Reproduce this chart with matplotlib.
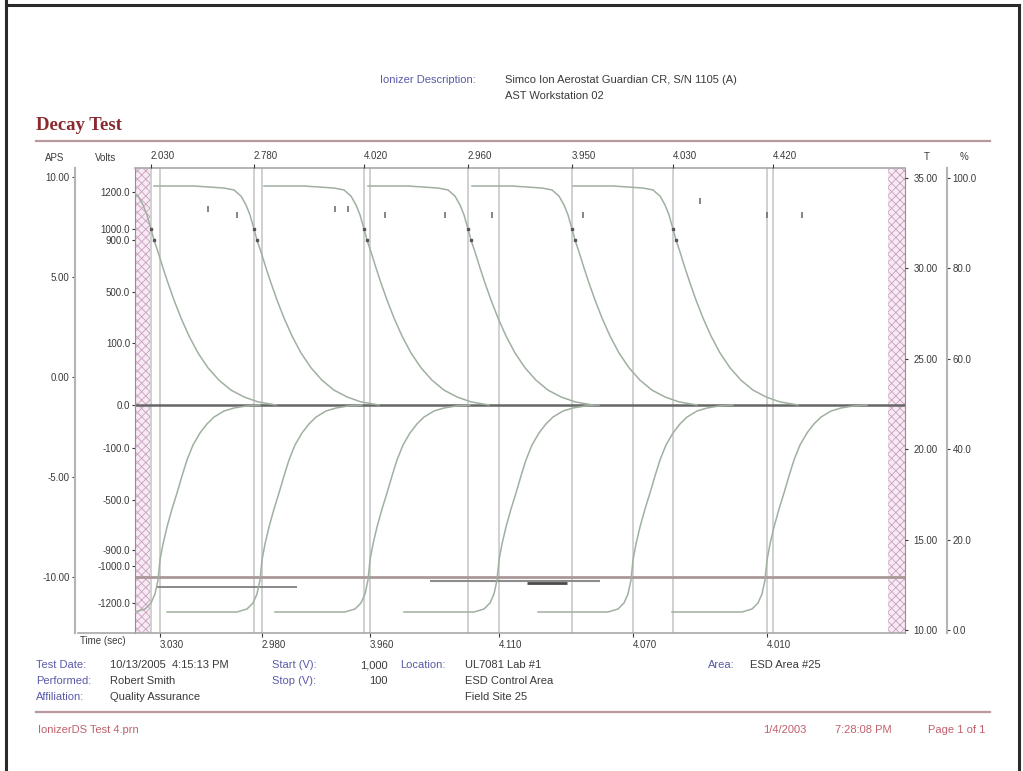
import numpy as np
import matplotlib.pyplot as plt
from matplotlib.lines import Line2D

W, H = 1023, 771

# positive decay profile: seconds from the 1000 V crossing, volts
pos_dt = [-10.0, -6.0, -3.0, -2.0, -1.3, -0.8, -0.4, 0.0, 0.3, 0.7, 1.2, 1.7,
          2.3, 3.0, 3.8, 4.7, 5.7, 6.8, 8.0, 9.3, 10.7, 12.5]
pos_v = [1250, 1250, 1233, 1217, 1178, 1130, 1076, 1000, 900, 808, 685, 569,
         437, 296, 155, 84, 60, 40, 24, 13, 5, 0]

# negative decay profile: seconds from the -1000 V crossing, volts
neg_dt = [-9.5, -2.5, -1.5, -0.9, -0.5, -0.2, 0.0, 0.3, 0.7, 1.2, 1.7, 2.2,
          2.7, 3.3, 4.0, 4.7, 5.4, 6.4, 7.4, 8.7, 10.0]
neg_v = [-1260, -1260, -1240, -1200, -1151, -1076, -962, -852, -716, -572,
         -446, -315, -192, -93, -65, -44, -28, -14, -7, -2, 0]

# start of each decay (s) and the times printed on the top / bottom axes
pos_t = [0.1, 10.4, 21.4, 31.8, 42.2, 52.3, 62.3]
pos_lbl = ["2.030", "2.780", "4.020", "2.960", "3.950", "4.030", "4.420"]
n_pos_curves = 6
neg_t = [1.0, 11.2, 22.0, 34.9, 48.3, 61.7]
neg_lbl = ["3.030", "2.980", "3.960", "4.110", "4.070", "4.010"]

# small event marks near the top of the plot
mark_t = [5.8, 8.7, 18.5, 19.8, 23.5, 29.5, 34.2, 43.3, 55.0, 61.7, 65.2]
mark_v = [1110, 1076, 1110, 1110, 1076, 1076, 1076, 1076, 1150, 1076, 1076]

# voltage axis (non linear, as printed)
volt_ticks = [1200, 1000, 900, 500, 100, 0, -100, -500, -900, -1000, -1200]
scale_v = [-1400, -1200, -1000, -900, -500, -100, 0, 100, 500, 900, 1000, 1200, 1400]
scale_pos = [-228, -198, -161, -145, -95, -43, 0, 62, 113, 165, 176, 213, 237]
ref_level = -1060
hold_segs = [(0.7, 14.7, -1114, '#808080', 1.3), (28.0, 45.0, -1080, '#8c8c8c', 1.5),
             (37.7, 41.7, -1090, '#4a4a4a', 2.0)]

# outer / right axes
aps_ticks = [10, 5, 0, -5, -10]
temp_ticks = [35, 30, 25, 20, 15, 10]
hum_ticks = [100, 80, 60, 40, 20, 0]


def fwd(v):
    return np.interp(v, scale_v, scale_pos)


def inv(p):
    return np.interp(p, scale_pos, scale_v)


plt.rcParams['font.family'] = ['Liberation Sans', 'DejaVu Sans']
plt.rcParams['hatch.linewidth'] = 0.6

txt_c = '#3a3a3a'
blue_c = '#5a5aa8'
red_c = '#c0606c'
curve_c = '#a0b0a0'
tick_fs = 7
info_fs = 8

fig = plt.figure(figsize=(W / 100, H / 100), dpi=100)


def fx(x):
    return x / W


def fy(y):
    return 1 - y / H


def fline(x0, y0, x1, y1, **kw):
    fig.add_artist(Line2D([fx(x0), fx(x1)], [fy(y0), fy(y1)],
                          transform=fig.transFigure, **kw))


def ftext(x, y, s, **kw):
    kw.setdefault('fontsize', info_fs)
    kw.setdefault('color', txt_c)
    kw.setdefault('va', 'center')
    fig.text(fx(x), fy(y), s, **kw)


# page frame and rules
fline(6, 0, 6, 771, color='#2a2a2a', lw=2.2)
fline(6, 5, 1019, 5, color='#2a2a2a', lw=2.2)
fline(1019, 5, 1019, 771, color='#2a2a2a', lw=2.2)
fline(36, 141, 990, 141, color='#b89a9c', lw=1.6)
fline(36, 712, 990, 712, color='#b89a9c', lw=1.6)
fline(78, 633, 135, 633, color='#a8a8a8', lw=1.2)

ftext(36, 125, "Decay Test", fontsize=13.5, fontweight='bold', color='#8b2a2e',
      family=['Liberation Serif', 'DejaVu Serif'])
ftext(380, 80, "Ionizer Description:", color=blue_c)
ftext(505, 80, "Simco Ion Aerostat Guardian CR, S/N 1105 (A)")
ftext(505, 96, "AST Workstation 02")

L, R, T, B = 135, 905, 168, 633
ax = fig.add_axes([fx(L), fy(B), (R - L) / W, (B - T) / H])
ax.set_xlim(-1.5, 75.5)
ax.set_yscale('function', functions=(fwd, inv))
ax.set_ylim(-1400, 1400)

for a, b in [(-1.5, 0.0), (73.8, 75.5)]:
    ax.axvspan(a, b, facecolor='#f8e9f3', edgecolor='#c7a2c0', hatch='xxxx',
               lw=0, zorder=0)

for t in pos_t + neg_t:
    ax.axvline(t, color='#cdcdcd', lw=1.3, zorder=1)

ax.axhline(0, color='#666666', lw=1.8, zorder=2)
ax.axhline(ref_level, color='#aa9898', lw=2.0, zorder=2)
for x0, x1, v, c, w in hold_segs:
    ax.hlines(v, x0, x1, color=c, lw=w, zorder=2)

for t0 in pos_t[:n_pos_curves]:
    ax.plot(np.add(pos_dt, t0), pos_v, color=curve_c, lw=1.1, zorder=3)
    ax.plot([t0, t0 + 0.3], [1000, 900], 's', ms=2.0, color='#555555', zorder=4)
for t0 in neg_t:
    ax.plot(np.add(neg_dt, t0), neg_v, color=curve_c, lw=1.1, zorder=3)

ax.plot(mark_t, mark_v, '|', ms=4, mew=1.2, color='#707070', zorder=4)

ax.set_yticks(volt_ticks, [f"{v:.1f}" for v in volt_ticks])
ax.tick_params(axis='y', length=2, pad=1.5, labelsize=tick_fs, colors=txt_c)
ax.set_xticks(neg_t, neg_lbl)
for lab in ax.get_xticklabels():
    lab.set_ha('left')
ax.tick_params(axis='x', length=3, pad=2, labelsize=tick_fs, colors=txt_c)
for s in ['top', 'bottom']:
    ax.spines[s].set_color('#a8a8a8')
    ax.spines[s].set_linewidth(1.2)
for s in ['left', 'right']:
    ax.spines[s].set_color('#9a8a9a')

ax_top = ax.twiny()
ax_top.set_xlim(ax.get_xlim())
ax_top.set_xticks(pos_t, pos_lbl)
for lab in ax_top.get_xticklabels():
    lab.set_ha('left')
ax_top.tick_params(axis='x', length=3, pad=2, labelsize=tick_fs, colors=txt_c)
for s in ax_top.spines.values():
    s.set_visible(False)

ax_o = ax.twinx()
ax_o.set_ylim(-12.8, 10.45)
for s in ax_o.spines.values():
    s.set_visible(False)
ax_o.spines['left'].set_visible(True)
ax_o.spines['left'].set_position(('axes', (75 - L) / (R - L)))
ax_o.spines['left'].set_color('#b4b4b4')
ax_o.spines['left'].set_linewidth(1.5)
ax_o.yaxis.set_ticks_position('left')
ax_o.set_yticks(aps_ticks, [f"{v:.2f}" for v in aps_ticks])
ax_o.tick_params(axis='y', length=2, pad=2, labelsize=tick_fs, colors=txt_c)

ax_r1 = ax.twinx()
ax_r1.set_ylim(9.834, 35.553)
for s in ax_r1.spines.values():
    s.set_visible(False)
ax_r1.set_yticks(temp_ticks, [f"{v:.2f}" for v in temp_ticks])
ax_r1.tick_params(axis='y', length=2, pad=4, labelsize=tick_fs, colors=txt_c)

ax_r2 = ax.twinx()
ax_r2.set_ylim(-0.664, 102.21)
for s in ax_r2.spines.values():
    s.set_visible(False)
ax_r2.spines['right'].set_visible(True)
ax_r2.spines['right'].set_position(('axes', (947 - L) / (R - L)))
ax_r2.spines['right'].set_color('#b4b4b4')
ax_r2.spines['right'].set_linewidth(1.5)
ax_r2.set_yticks(hum_ticks, [f"{v:.1f}" for v in hum_ticks])
ax_r2.tick_params(axis='y', length=2, pad=2, labelsize=tick_fs, colors=txt_c)

# axis headers
ftext(45, 158, "APS", fontsize=tick_fs)
ftext(95, 158, "Volts", fontsize=tick_fs)
ftext(924, 157, "T", fontsize=tick_fs)
ftext(960, 157, "%", fontsize=tick_fs)
ftext(80, 641, "Time (sec)", fontsize=tick_fs)

# test details
ftext(36, 665, "Test Date:", color=blue_c)
ftext(110, 665, "10/13/2005  4:15:13 PM")
ftext(272, 665, "Start (V):", color=blue_c)
ftext(388, 665, "1,000", ha='right')
ftext(400, 665, "Location:", color=blue_c)
ftext(465, 665, "UL7081 Lab #1")
ftext(708, 665, "Area:", color=blue_c)
ftext(750, 665, "ESD Area #25")
ftext(36, 681, "Performed:", color=blue_c)
ftext(110, 681, "Robert Smith")
ftext(272, 681, "Stop (V):", color=blue_c)
ftext(388, 681, "100", ha='right')
ftext(465, 681, "ESD Control Area")
ftext(36, 697, "Affiliation:", color=blue_c)
ftext(110, 697, "Quality Assurance")
ftext(465, 697, "Field Site 25")

# footer
ftext(38, 730, "IonizerDS Test 4.prn", color=red_c)
ftext(763, 730, "1/4/2003", color=red_c)
ftext(835, 730, "7:28:08 PM", color=red_c)
ftext(928, 730, "Page 1 of 1", color=red_c)

fig.savefig('out.png', dpi=100, facecolor='white')
